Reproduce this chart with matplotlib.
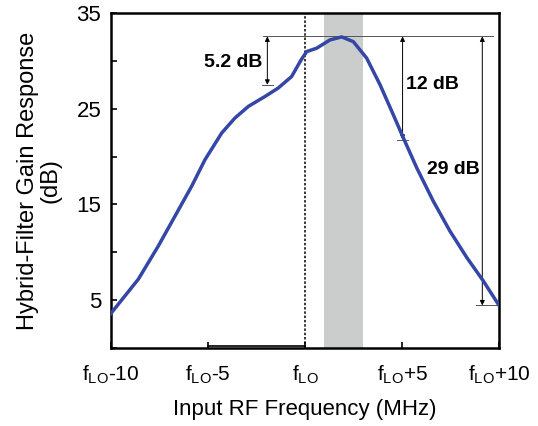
import matplotlib
matplotlib.use("Agg")
import matplotlib.pyplot as plt

plt.rcParams['font.family'] = ['Liberation Sans', 'DejaVu Sans']
plt.rcParams['mathtext.fontset'] = 'custom'
plt.rcParams['mathtext.rm'] = 'Liberation Sans'
plt.rcParams['mathtext.it'] = 'Liberation Sans'

# frequency offset from fLO (MHz) and gain (dB)
freq = [-10, -9.96, -8.59, -7.56, -6.70, -5.84, -5.15, -4.29, -3.61, -2.92, -2.06,
        -1.38, -0.69, -0.2, 0.09, 0.60, 1.29, 1.89, 2.49, 3.18, 3.87, 4.55, 5.07,
        5.76, 6.61, 7.47, 8.34, 9.19, 9.96, 10]
gain = [3.6, 3.72, 7.19, 10.66, 13.78, 16.91, 19.69, 22.47, 24.03, 25.24, 26.28,
        27.16, 28.36, 30.1, 30.97, 31.32, 32.19, 32.5, 32.01, 30.28, 27.5, 24.38, 21.95,
        18.82, 15.35, 12.22, 9.45, 7.01, 4.58, 4.45]

xticks = [-10, -5, 0, 5, 10]
xlabels = [r'$\mathregular{f_{LO}}$-10', r'$\mathregular{f_{LO}}$-5', r'$\mathregular{f_{LO}}$',
           r'$\mathregular{f_{LO}}$+5', r'$\mathregular{f_{LO}}$+10']
yticks = [5, 15, 25, 35]

band = (1, 3)
peak = 32.55
# arrows: x position, lower end, label, label x, label y, label alignment
arrows = [(-1.94, 27.5, '5.2 dB', -2.2, 29.8, 'right'),
          (5.03, 21.75, '12 dB', 5.2, 27.5, 'left'),
          (9.14, 4.45, '29 dB', 6.3, 18.65, 'left')]

fig = plt.figure(figsize=(5.38, 4.26), dpi=100)
ax = fig.add_axes([0.2063, 0.1831, 0.7212, 0.7864])

ax.axvspan(band[0], band[1], color='#cbcdcd', lw=0, zorder=0)
ax.axvline(0, color='black', ls=(0, (1.6, 1.2)), lw=1.1, zorder=1)
ax.plot(freq, gain, color='#3446a6', lw=2.5, zorder=3)

# reference line at the peak
ax.plot([-2.16, 9.7], [peak, peak], color='#555555', lw=0.7, zorder=2)
for x, lo, txt, tx, ty, ha in arrows:
    ax.annotate('', xy=(x, lo), xytext=(x, peak),
                arrowprops=dict(arrowstyle='<|-|>', color='black', lw=0.7,
                                mutation_scale=7, shrinkA=0, shrinkB=0), zorder=2)
    ax.plot([x - 0.3, x + 0.3], [lo, lo], color='#555555', lw=0.7, zorder=2)
    ax.text(tx, ty, txt, ha=ha, va='center', fontsize=14, fontweight='bold')
ax.plot([8.8, 9.95], [4.45, 4.45], color='#555555', lw=0.7, zorder=2)
ax.plot([-5, 0], [0.25, 0.25], color='black', lw=1.2, zorder=2)

ax.set_xlim(-10, 10)
ax.set_ylim(0, 35)
ax.set_xticks(xticks)
ax.set_xticklabels(xlabels)
ax.set_yticks([0, 5, 10, 15, 20, 25, 30, 35])
ax.set_yticklabels(['' if v not in yticks else str(v) for v in [0, 5, 10, 15, 20, 25, 30, 35]])
ax.tick_params(direction='in', length=4, width=1.2)
ax.tick_params(axis='y', labelsize=16, pad=7)
ax.tick_params(axis='x', labelsize=15, pad=11)
for s in ax.spines.values():
    s.set_linewidth(1.8)

ax.set_xlabel('Input RF Frequency (MHz)', fontsize=16, labelpad=10)
ax.set_ylabel('Hybrid-Filter Gain Response\n(dB)', fontsize=17, labelpad=11, linespacing=1.0)

fig.savefig('out.png', dpi=100)
